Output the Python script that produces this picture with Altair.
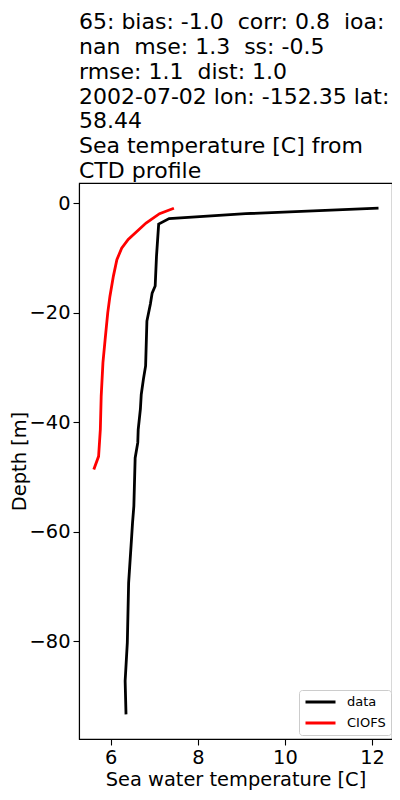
import altair as alt
import pandas as pd

# Observed CTD profile ("data")
data_temp = [12.15, 9.1, 7.34, 7.10, 7.05, 7.02, 6.95, 6.91, 6.83, 6.80, 6.75, 6.70,
             6.68, 6.63, 6.62, 6.56, 6.53, 6.50, 6.48, 6.41, 6.38, 6.33, 6.35]
data_depth = [-0.9, -1.9, -2.8, -3.8, -9.7, -15.1, -16.4, -18.4, -21.5, -29.7, -32.1, -34.9,
              -37.6, -41.3, -43.7, -46.5, -55.3, -58.3, -60.8, -69.3, -80.2, -87.2, -93.3]

# Model profile ("CIOFS")
model_temp = [7.45, 7.12, 6.81, 6.40, 6.25, 6.14, 6.06, 5.98, 5.93, 5.87, 5.82, 5.78,
              5.76, 5.72, 5.61]
model_depth = [-0.9, -1.9, -3.6, -6.6, -8.2, -10.3, -13.3, -17.0, -20.0, -24.9, -29.1, -35.2,
               -41.3, -46.2, -48.6]

series_names = ["data", "CIOFS"]
series_colors = ["black", "red"]

NB = "\u00a0"
title_lines = [
    f"65: bias: -1.0 {NB}corr: 0.8 {NB}ioa:",
    f"nan {NB}mse: 1.3 {NB}ss: -0.5",
    f"rmse: 1.1 {NB}dist: 1.0",
    "2002-07-02 lon: -152.35 lat:",
    "58.44",
    "Sea temperature [C] from",
    "CTD profile",
]

x_ticks = [6, 8, 10, 12]
y_ticks = [0, -20, -40, -60, -80]

rows = []
for i, (t, d) in enumerate(zip(data_temp, data_depth)):
    rows.append({"series": "data", "temp": t, "depth": d, "i": i})
for i, (t, d) in enumerate(zip(model_temp, model_depth)):
    rows.append({"series": "CIOFS", "temp": t, "depth": d, "i": i})
df = pd.DataFrame(rows)

FONT = "DejaVu Sans"

chart = alt.Chart(df).mark_line(strokeWidth=2.8).encode(
    x=alt.X("temp:Q",
            scale=alt.Scale(domain=[5.27, 12.46], nice=False, zero=False),
            axis=alt.Axis(title="Sea water temperature [C]", values=x_ticks,
                          format="d", grid=False, tickSize=6, labelPadding=3,
                          titlePadding=4)),
    y=alt.Y("depth:Q",
            scale=alt.Scale(domain=[-97.8, 3.7], nice=False, zero=False),
            axis=alt.Axis(title="Depth [m]", values=y_ticks, format="d",
                          grid=False, tickSize=6, labelPadding=3, titlePadding=0)),
    color=alt.Color("series:N",
                    scale=alt.Scale(domain=series_names, range=series_colors),
                    legend=alt.Legend(title=None, orient="none",
                                      legendX=220, legendY=507,
                                      clipHeight=14)),
    order=alt.Order("i:Q"),
).properties(
    width=313,
    height=556,
    title=alt.TitleParams(text=title_lines, anchor="start", frame="group",
                          fontSize=22, font=FONT, fontWeight="normal",
                          lineHeight=24.8, color="black", offset=0),
    autosize=alt.AutoSizeParams(type="none"),
    padding={"left": 71, "top": 175, "right": 0, "bottom": 53},
).configure_view(
    stroke="black", strokeWidth=1.1
).configure_axis(
    labelFont=FONT, titleFont=FONT, labelFontSize=19.4, titleFontSize=19.4,
    titleFontWeight="normal", labelColor="black", titleColor="black",
    domainColor="black", tickColor="black", domainWidth=1.1, tickWidth=1.1,
).configure_legend(
    labelFont=FONT, labelFontSize=13, labelColor="black",
    symbolType="stroke", symbolSize=900, symbolStrokeWidth=2.8,
    strokeColor="#cccccc", fillColor="white", cornerRadius=3,
    padding=5, rowPadding=7, labelOffset=10,
)

chart.save("out.html", embed_options={"renderer": "svg", "actions": False})
